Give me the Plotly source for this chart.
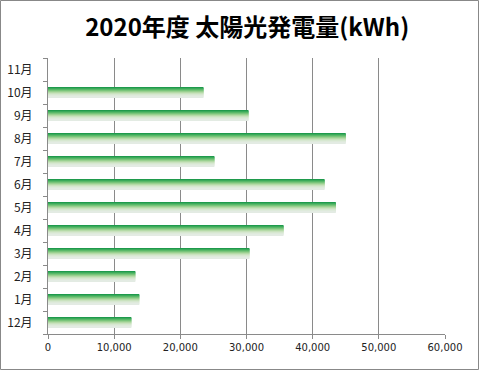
import plotly.graph_objects as go

months = ["12月", "1月", "2月", "3月", "4月", "5月", "6月", "7月", "8月", "9月", "10月", "11月"]
generation = [12600, 13800, 13200, 30450, 35600, 43500, 41800, 25150, 45000, 30300, 23500, None]
x_ticks = [0, 10000, 20000, 30000, 40000, 50000, 60000]
x_tick_labels = ["0", "10,000", "20,000", "30,000", "40,000", "50,000", "60,000"]
title_text = "2020年度 太陽光発電量(kWh)"

W, H = 480, 371
ML, MR, MT, MB = 48, 35, 58, 37

# gradient stripes (top -> bottom)
stripe_colors = ["#1F9A4C", "#3AAA5A", "#58B868", "#78C47A", "#98D08F",
                 "#B4DAA7", "#C9E2BE", "#D6E7D0", "#DEEADB", "#E3EBE3"]
bar_width = 0.44
n = len(stripe_colors)
sw = bar_width / n

fig = go.Figure()
for i, c in enumerate(stripe_colors):
    off = bar_width / 2 - (i + 1) * sw
    fig.add_trace(go.Bar(
        y=months, x=generation, orientation="h",
        marker=dict(color=c, line=dict(width=0)),
        width=sw * 1.05, offset=off,
        hoverinfo="skip", showlegend=False,
    ))

pw = W - ML - MR
ph = H - MT - MB
fig.add_shape(type="rect", xref="paper", yref="paper",
              x0=-(ML - 0.5) / pw, x1=1 + (MR - 1.5) / pw,
              y0=-(MB - 1.5) / ph, y1=1 + (MT - 0.5) / ph,
              line=dict(color="#888888", width=1), fillcolor="rgba(0,0,0,0)", layer="below")

fig.update_layout(
    width=W, height=H,
    margin=dict(l=ML, r=MR, t=MT, b=MB, pad=0, autoexpand=False),
    paper_bgcolor="white", plot_bgcolor="white",
    barmode="overlay",
    title=dict(text=title_text, x=0.515, xanchor="center", y=1 - 28 / H, yanchor="middle",
               font=dict(family="Noto Sans CJK JP", size=24, color="#000000", weight="bold")),
    font=dict(family="Noto Sans CJK JP", size=11, color="#222222"),
    xaxis=dict(range=[0, 60000], tickvals=x_ticks, ticktext=x_tick_labels,
               showgrid=True, gridcolor="#8a8a8a", gridwidth=1,
               showline=True, linecolor="#8a8a8a", linewidth=1,
               ticks="outside", ticklen=4, tickcolor="#8a8a8a",
               zeroline=False, fixedrange=True, automargin=False,
               tickfont=dict(family="DejaVu Sans", size=10, color="#222222")),
    yaxis=dict(type="category", categoryorder="array", categoryarray=months,
               showgrid=False, showline=True, linecolor="#8a8a8a", linewidth=1,
               ticks="outside", ticklen=4, tickcolor="#8a8a8a", tickson="boundaries",
               range=[-0.5, 11.5], fixedrange=True, tickfont=dict(size=12),
               ticklabelstandoff=12, automargin=False),
)

fig.write_html("out.html", config={"displayModeBar": False},
               post_script="document.body.style.margin='0';document.body.style.overflow='hidden';")
